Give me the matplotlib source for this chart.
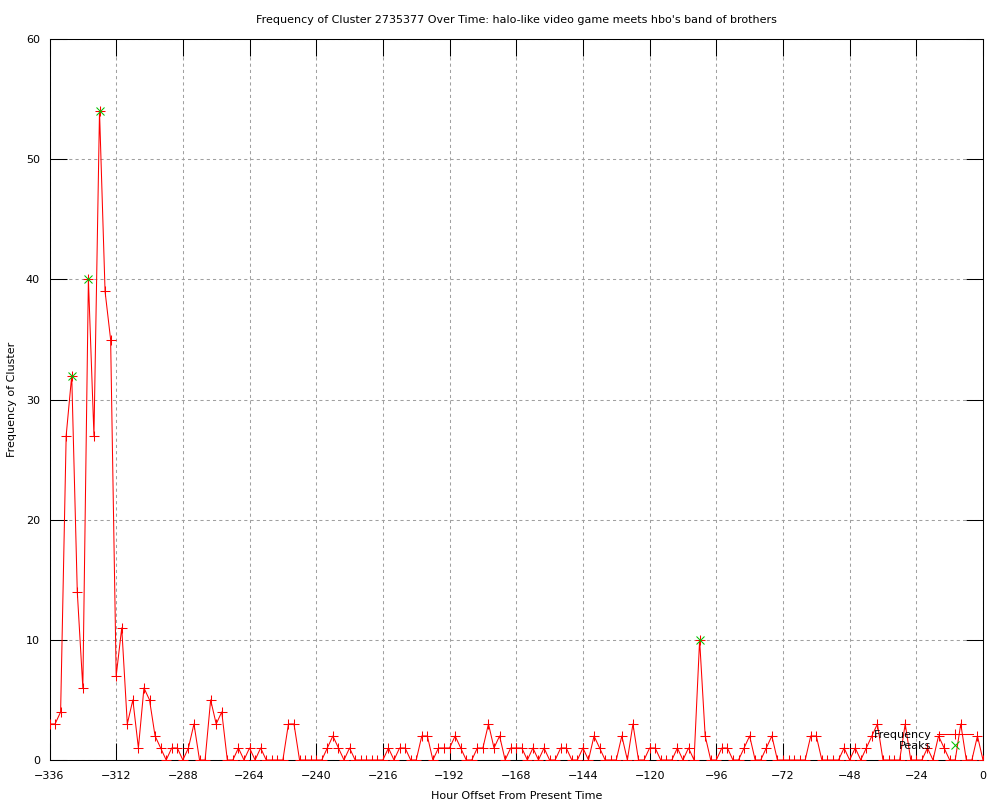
import numpy as np
import matplotlib
matplotlib.use("Agg")
import matplotlib.pyplot as plt

# hourly bins, every 2 hours from -336 to 0
hours = np.arange(-336, 1, 2)
frequency = [
    3, 3, 4, 27, 32, 14, 6, 40, 27, 54, 39, 35,          # -336 .. -314
    7, 11, 3, 5, 1, 6, 5, 2, 1, 0, 1, 1,                 # -312 .. -290
    0, 1, 3, 0, 0, 5, 3, 4, 0, 0, 1, 0,                  # -288 .. -266
    1, 0, 1, 0, 0, 0, 0, 3, 3, 0, 0, 0,                  # -264 .. -242
    0, 0, 1, 2, 1, 0, 1, 0, 0, 0, 0, 0,                  # -240 .. -218
    0, 1, 0, 1, 1, 0, 0, 2, 2, 0, 1, 1,                  # -216 .. -194
    1, 2, 1, 0, 0, 1, 1, 3, 1, 2, 0, 1,                  # -192 .. -170
    1, 1, 0, 1, 0, 1, 0, 0, 1, 1, 0, 0,                  # -168 .. -146
    1, 0, 2, 1, 0, 0, 0, 2, 0, 3, 0, 0,                  # -144 .. -122
    1, 1, 0, 0, 0, 1, 0, 1, 0, 10, 2, 0,                 # -120 .. -98
    0, 1, 1, 0, 0, 1, 2, 0, 0, 1, 2, 0,                  # -96 .. -74
    0, 0, 0, 0, 0, 2, 2, 0, 0, 0, 0, 1,                  # -72 .. -50
    0, 1, 0, 1, 2, 3, 0, 0, 0, 0, 3, 0,                  # -48 .. -26
    0, 0, 1, 0, 2, 1, 0, 0, 3, 0, 0, 2,                  # -24 .. -2
    0,                                                   # 0
]
peak_hours = [-328, -322, -318, -102]
peak_values = [32, 40, 54, 10]

title = "Frequency of Cluster 2735377 Over Time: halo-like video game meets hbo's band of brothers"

plt.rcParams["font.family"] = ["DejaVu Sans"]
plt.rcParams["font.size"] = 8

fig = plt.figure(figsize=(10, 8), dpi=100)
ax = fig.add_axes([0.0495, 0.05, 0.9335, 0.901])

ax.plot(hours, frequency, color="#ff0000", linewidth=0.75, marker="+",
        markersize=7, markeredgewidth=0.75, label="Frequency", zorder=3)
ax.plot(peak_hours, peak_values, color="#00c000", linestyle="none", marker="x",
        markersize=6, markeredgewidth=0.75, label="Peaks", zorder=4)

ax.set_xlim(-336, 0)
ax.set_ylim(0, 60)
ax.set_xticks(np.arange(-336, 1, 24))
ax.set_yticks(np.arange(0, 61, 10))

ax.grid(True, color="#a0a0a0", linestyle=(0, (3, 3)), linewidth=0.75)
ax.set_axisbelow(True)
ax.tick_params(direction="in", length=12, width=0.75, top=True, right=True,
               labelsize=8)
ax.tick_params(axis="x", pad=8)
ax.tick_params(axis="y", pad=7)
for spine in ax.spines.values():
    spine.set_linewidth(0.75)

ax.set_title(title, fontsize=8, pad=12)
ax.set_xlabel("Hour Offset From Present Time", fontsize=8, labelpad=7)
ax.set_ylabel("Frequency of Cluster", fontsize=8, labelpad=6)

ax.legend(loc="lower right", bbox_to_anchor=(0.995, 0.005), frameon=False,
          markerfirst=False, handlelength=3.2, handletextpad=0.5,
          labelspacing=0.05, borderpad=0, fontsize=8)

fig.savefig("out.png", dpi=100)
